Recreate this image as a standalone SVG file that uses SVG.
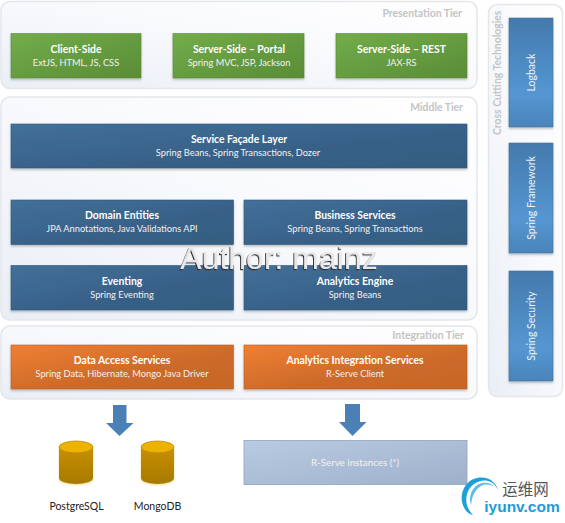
<svg xmlns="http://www.w3.org/2000/svg" width="565" height="523" viewBox="0 0 565 523">
<style>
text{font-family:Lato,"Open Sans",sans-serif;text-anchor:middle}
.t{font-size:10.4px;font-weight:700;fill:#fff}
.s{font-size:9.25px;fill:#f2f2f2}
.tier{font-size:10.4px;font-weight:700;fill:#c4c4c4;text-anchor:end}
.panel{fill:url(#panel);stroke:#e4e6ea;stroke-width:1.5}
.g{fill:url(#green);stroke:#5b8a37;stroke-width:.6;filter:url(#sh)}
.b{fill:url(#blue);stroke:#2f5678;stroke-width:.6;filter:url(#sh)}
.o{fill:url(#orange);stroke:#b85f24;stroke-width:.6;filter:url(#sh)}
.c{fill:url(#cross);stroke:#41719c;stroke-width:.6;filter:url(#sh)}
.v{font-size:10.5px;fill:#f2f2f2}
.lab{font-size:10.5px;fill:#222}
.arrow{fill:url(#arrow)}
</style>
<defs>
<linearGradient id="panel" x1="0" y1="1" x2="1" y2="0"><stop offset="0" stop-color="#e9eef6"/><stop offset=".5" stop-color="#f8f9fc"/><stop offset="1" stop-color="#fff"/></linearGradient>
<linearGradient id="green" x1="0" y1="0" x2="1" y2="1"><stop offset="0" stop-color="#72ad4a"/><stop offset="1" stop-color="#5a8c36"/></linearGradient>
<linearGradient id="blue" x1="0" y1="0" x2="1" y2="1"><stop offset="0" stop-color="#437099"/><stop offset=".6" stop-color="#376087"/><stop offset="1" stop-color="#345d80"/></linearGradient>
<linearGradient id="orange" x1="0" y1="0" x2="1" y2="1"><stop offset="0" stop-color="#f07f32"/><stop offset=".6" stop-color="#cc6a2a"/><stop offset="1" stop-color="#c76627"/></linearGradient>
<linearGradient id="cross" x1="0" y1="0" x2="0" y2="1"><stop offset="0" stop-color="#447aad"/><stop offset=".7" stop-color="#5596d2"/><stop offset="1" stop-color="#4a84ba"/></linearGradient>
<linearGradient id="arrow" x1="0" y1="0" x2="0" y2="1"><stop offset="0" stop-color="#4a7fb3"/><stop offset="1" stop-color="#4a82b8"/></linearGradient>
<linearGradient id="cyl" x1="0" y1="0" x2="0" y2="1"><stop offset="0" stop-color="#c98f08"/><stop offset="1" stop-color="#a67a00"/></linearGradient>
<linearGradient id="rs" x1="0" y1="0" x2="1" y2="1"><stop offset="0" stop-color="#b9cbe3"/><stop offset="1" stop-color="#9fb0ca"/></linearGradient>
<filter id="sh" x="-5%" y="-10%" width="110%" height="125%"><feDropShadow dx="0" dy="1.5" stdDeviation="1.2" flood-color="#000" flood-opacity=".25"/></filter>
<filter id="wm" x="-5%" y="-10%" width="110%" height="130%"><feDropShadow dx="-1" dy="1.2" stdDeviation=".3" flood-color="#333" flood-opacity="1"/></filter>
<filter id="glow" x="-20%" y="-10%" width="140%" height="125%"><feDropShadow dx="0" dy="1" stdDeviation="1" flood-color="#f0d060" flood-opacity=".8"/></filter>
</defs>

<g id="panels">
<rect id="presentation-tier" class="panel" x="1" y="1.500" width="476" height="87" rx="9"/>
<rect id="middle-tier" class="panel" x="1" y="97" width="476" height="223" rx="9"/>
<rect id="integration-tier" class="panel" x="1" y="326" width="476" height="73" rx="9"/>
<rect id="cross-cutting" class="panel" x="488.500" y="4.500" width="74" height="392" rx="9"/>
<text class="tier" x="462" y="17">Presentation Tier</text>
<text class="tier" x="463" y="111">Middle Tier</text>
<text class="tier" x="464" y="339">Integration Tier</text>
<text class="tier" style="text-anchor:start" transform="translate(501 135) rotate(-90)">Cross Cutting Technologies</text>
</g>

<g id="client-side"><rect class="g" x="11" y="33.500" width="130" height="44.500"/><text class="t" x="76" y="53">Client-Side</text><text class="s" x="76" y="66">ExtJS, HTML, JS, CSS</text></g>
<g id="server-portal"><rect class="g" x="173" y="33.500" width="131" height="44.500"/><text class="t" x="239" y="53">Server-Side – Portal</text><text class="s" x="239" y="66">Spring MVC, JSP, Jackson</text></g>
<g id="server-rest"><rect class="g" x="336" y="33.500" width="131" height="44.500"/><text class="t" x="401.500" y="53">Server-Side – REST</text><text class="s" x="401.500" y="66">JAX-RS</text></g>

<g id="service-facade"><rect class="b" x="11" y="124" width="456" height="44"/><text class="t" x="239" y="143">Service Façade Layer</text><text class="s" x="238" y="156">Spring Beans, Spring Transactions, Dozer</text></g>
<g id="domain-entities"><rect class="b" x="11" y="200" width="222.500" height="44.500"/><text class="t" x="122" y="219">Domain Entities</text><text class="s" x="122" y="232">JPA Annotations,  Java Validations API</text></g>
<g id="business-services"><rect class="b" x="244" y="200" width="223" height="44.500"/><text class="t" x="355" y="219">Business Services</text><text class="s" x="355" y="232">Spring Beans, Spring Transactions</text></g>
<g id="eventing"><rect class="b" x="11" y="265.500" width="222.500" height="44.500"/><text class="t" x="122" y="285">Eventing</text><text class="s" x="122" y="298">Spring Eventing</text></g>
<g id="analytics-engine"><rect class="b" x="244" y="265.500" width="223" height="44.500"/><text class="t" x="355" y="285">Analytics Engine</text><text class="s" x="355" y="298">Spring Beans</text></g>

<g id="data-access"><rect class="o" x="11" y="345" width="222.500" height="44"/><text class="t" x="122" y="364">Data Access Services</text><text class="s" x="122" y="377">Spring Data, Hibernate, Mongo Java Driver</text></g>
<g id="analytics-integration"><rect class="o" x="244" y="345" width="223" height="44"/><text class="t" x="355" y="364">Analytics Integration Services</text><text class="s" x="355" y="377">R-Serve Client</text></g>

<g id="logback"><rect class="c" x="509" y="18" width="44" height="109"/><text class="v" transform="translate(535 72.500) rotate(-90)">Logback</text></g>
<g id="spring-framework"><rect class="c" x="509" y="143" width="44" height="110"/><text class="v" transform="translate(535 198) rotate(-90)">Spring Framework</text></g>
<g id="spring-security"><rect class="c" x="509" y="271" width="44" height="110"/><text class="v" transform="translate(535 326) rotate(-90)">Spring Security</text></g>

<g id="connectors">
<path class="arrow" d="M113 405H126.500V423H133.500L119.500 436L106 423H113Z"/>
<path class="arrow" d="M345 404H360V422H366.500L352.500 436L339 422H345Z"/>
</g>

<g id="postgresql">
<path d="M59 447V478A17 6 0 0 0 93 478V447Z" fill="url(#cyl)" filter="url(#glow)"/>
<ellipse cx="76" cy="447" rx="17" ry="6" fill="#edb200" stroke="#b88a08" stroke-width=".8"/>
<text class="lab" x="76.500" y="510">PostgreSQL</text>
</g>
<g id="mongodb">
<path d="M141 447V478A16.500 6 0 0 0 174 478V447Z" fill="url(#cyl)" filter="url(#glow)"/>
<ellipse cx="157.500" cy="447" rx="16.500" ry="6" fill="#edb200" stroke="#b88a08" stroke-width=".8"/>
<text class="lab" x="157.500" y="510">MongoDB</text>
</g>
<g id="r-serve"><rect x="244" y="440.500" width="223" height="44" fill="url(#rs)" stroke="#8fa3bf" stroke-width=".8"/><text class="s" style="font-size:9.800px" x="355" y="466">R-Serve instances (*)</text></g>

<g id="watermark"><text x="279" y="269" filter="url(#wm)" style="font-family:'Liberation Sans',sans-serif;font-size:32px;fill:#e8e8e8">Author: mainz</text></g>

<g id="logo">
<path d="M498 490C495 480 486 476 477 478C466 480 460 492 462 502C464 510 468 514 473 515C467 509 465 502 467 494C470 484 480 479 488 481C493 482 496 486 498 490Z" fill="#1f9fd8"/>
<path d="M495 487C490 482 482 481 476 486C470 491 469 499 471 505C472 495 476 488 483 485C487 484 492 485 495 487Z" fill="#5fbde4"/>
<text x="525.500" y="494.500" style="font-family:'Noto Sans CJK SC',sans-serif;font-size:15.500px;fill:#555">运维网</text>
<text x="522" y="512" style="font-family:'Liberation Sans',sans-serif;font-size:15.500px;font-weight:700;fill:#1e9bd7">iyunv.com</text>
</g>
</svg>
